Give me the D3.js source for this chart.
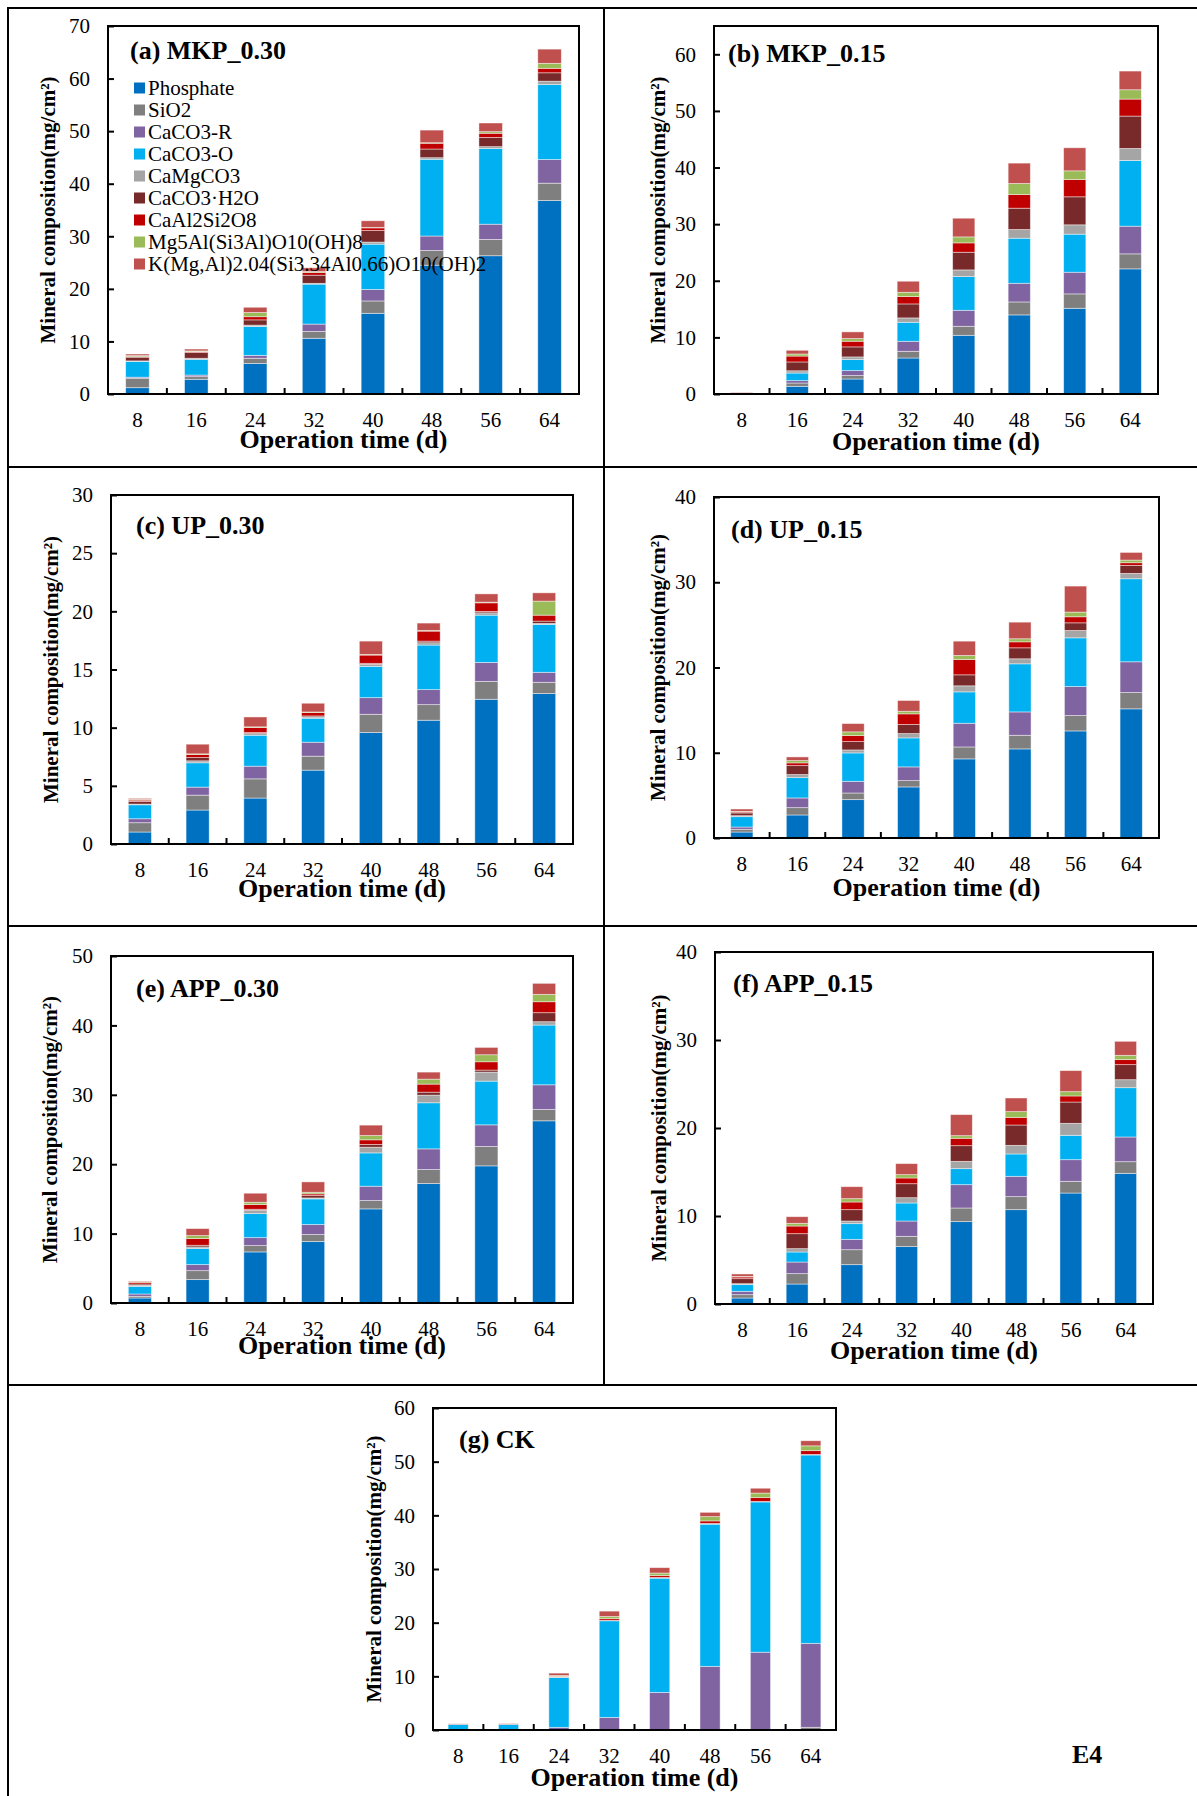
<!DOCTYPE html>
<html>
<head>
<meta charset="utf-8">
<script src="https://cdn.jsdelivr.net/npm/d3@7"></script>
<style>
  html, body { margin: 0; padding: 0; background: #fff; }
  svg { display: block; }
</style>
</head>
<body>
<svg id="fig" width="1197" height="1796"></svg>
<script>
// Sampling days (x categories)
const days = ["8", "16", "24", "32", "40", "48", "56", "64"];

// Mineral phases, stacked bottom to top
const minerals = [
  "Phosphate", "SiO2", "CaCO3-R", "CaCO3-O", "CaMgCO3", "CaCO3·H2O",
  "CaAl2Si2O8", "Mg5Al(Si3Al)O10(OH)8", "K(Mg,Al)2.04(Si3.34Al0.66)O10(OH)2"
];

// Mineral composition (mg/cm²), one row per mineral, one value per day
const mkp030 = [
  [1.2, 2.8, 5.8, 10.6, 15.35, 24.5, 26.3, 36.8],
  [1.8, 0.5, 1.0, 1.3, 2.35, 2.8, 3.1, 3.3],
  [0.2, 0.3, 0.55, 1.4, 2.2, 2.75, 2.9, 4.5],
  [3.0, 3.0, 5.5, 7.6, 8.6, 14.6, 14.4, 14.25],
  [0.1, 0.2, 0.25, 0.15, 0.4, 0.3, 0.35, 0.65],
  [0.7, 1.1, 1.0, 1.55, 2.2, 1.65, 1.75, 1.6],
  [0.1, 0.15, 0.6, 0.5, 0.5, 1.1, 0.8, 0.85],
  [0.2, 0.15, 0.8, 0.2, 0.1, 0.1, 0.3, 0.95],
  [0.3, 0.35, 1.0, 0.7, 1.25, 2.4, 1.65, 2.7]
];
const mkp015 = [
  [0, 1.36, 2.65, 6.36, 10.37, 13.97, 15.14, 22.1],
  [0, 0.58, 0.6, 1.18, 1.59, 2.29, 2.54, 2.65],
  [0, 0.42, 0.88, 1.77, 2.83, 3.3, 3.83, 4.89],
  [0, 1.34, 1.95, 3.36, 5.95, 7.96, 6.72, 11.61],
  [0, 0.4, 0.47, 0.77, 1.18, 1.53, 1.65, 2.12],
  [0.05, 1.56, 1.77, 2.47, 3.12, 3.77, 4.95, 5.72],
  [0, 1.04, 1.0, 1.3, 1.65, 2.42, 3.06, 3.0],
  [0, 0.37, 0.47, 0.76, 1.06, 1.94, 1.53, 1.65],
  [0.2, 0.65, 1.18, 1.95, 3.3, 3.6, 4.07, 3.3]
];
const up030 = [
  [1.03, 2.92, 3.95, 6.35, 9.58, 10.64, 12.44, 12.93],
  [0.8, 1.28, 1.65, 1.2, 1.57, 1.34, 1.54, 0.97],
  [0.34, 0.69, 1.09, 1.2, 1.43, 1.29, 1.63, 0.86],
  [1.2, 2.09, 2.66, 2.06, 2.69, 3.83, 4.06, 4.11],
  [0.06, 0.17, 0.14, 0.11, 0.17, 0.2, 0.2, 0.09],
  [0.23, 0.28, 0.09, 0.09, 0.09, 0.14, 0.12, 0.2],
  [0.11, 0.26, 0.43, 0.29, 0.71, 0.86, 0.74, 0.51],
  [0.06, 0.06, 0.06, 0.05, 0.06, 0.06, 0.06, 1.21],
  [0.09, 0.83, 0.85, 0.75, 1.14, 0.63, 0.71, 0.71]
];
const up015 = [
  [0.7, 2.7, 4.5, 5.99, 9.28, 10.45, 12.56, 15.15],
  [0.32, 0.86, 0.78, 0.74, 1.4, 1.6, 1.8, 1.91],
  [0.27, 1.14, 1.37, 1.61, 2.78, 2.74, 3.41, 3.61],
  [1.21, 2.38, 3.33, 3.4, 3.68, 5.64, 5.71, 9.74],
  [0.12, 0.36, 0.35, 0.51, 0.71, 0.59, 0.86, 0.63],
  [0.32, 1.05, 0.98, 1.06, 1.29, 1.29, 0.9, 0.94],
  [0.11, 0.32, 0.71, 1.25, 1.8, 0.7, 0.71, 0.31],
  [0.08, 0.27, 0.43, 0.31, 0.47, 0.36, 0.55, 0.31],
  [0.27, 0.43, 0.97, 1.26, 1.68, 1.95, 3.05, 0.9]
];
const app030 = [
  [0.72, 3.37, 7.36, 8.85, 13.56, 17.21, 19.76, 26.25],
  [0.24, 1.29, 0.91, 1.01, 1.2, 2.02, 2.79, 1.63],
  [0.34, 0.87, 1.15, 1.44, 2.07, 2.98, 3.12, 3.56],
  [1.1, 2.31, 3.46, 3.7, 4.8, 6.64, 6.3, 8.61],
  [0.15, 0.24, 0.49, 0.14, 0.82, 1.1, 1.3, 0.48],
  [0.19, 0.24, 0.14, 0.34, 0.39, 0.43, 0.29, 1.3],
  [0.24, 0.96, 0.67, 0.24, 0.67, 1.16, 1.2, 1.58],
  [0.1, 0.43, 0.34, 0.24, 0.62, 0.72, 1.01, 1.06],
  [0.09, 1.01, 1.3, 1.49, 1.5, 1.01, 1.06, 1.59]
];
const app015 = [
  [0.68, 2.27, 4.47, 6.52, 9.36, 10.72, 12.61, 14.85],
  [0.38, 1.18, 1.7, 1.17, 1.55, 1.48, 1.33, 1.32],
  [0.38, 1.32, 1.18, 1.74, 2.65, 2.31, 2.46, 2.81],
  [0.76, 1.14, 1.78, 2.05, 1.82, 2.54, 2.77, 5.6],
  [0.11, 0.38, 0.3, 0.6, 0.83, 0.98, 1.36, 0.91],
  [0.57, 1.7, 1.29, 1.59, 1.78, 2.31, 2.42, 1.71],
  [0.19, 0.87, 0.87, 0.65, 0.84, 0.87, 0.69, 0.57],
  [0.07, 0.31, 0.38, 0.38, 0.3, 0.65, 0.49, 0.49],
  [0.27, 0.75, 1.36, 1.25, 2.39, 1.55, 2.39, 1.59]
];
const ck = [
  [0, 0, 0, 0, 0, 0, 0, 0],
  [0, 0, 0.1, 0.05, 0.1, 0.1, 0.1, 0.5],
  [0.05, 0.05, 0.4, 2.3, 6.9, 11.76, 14.4, 15.65],
  [1.0, 1.0, 9.3, 18.0, 21.3, 26.5, 28.0, 35.1],
  [0, 0, 0.05, 0.05, 0.05, 0.05, 0.05, 0.05],
  [0, 0, 0.05, 0.05, 0.1, 0.1, 0.05, 0.05],
  [0, 0, 0.1, 0.3, 0.35, 0.45, 0.7, 0.7],
  [0, 0, 0.15, 0.4, 0.45, 0.8, 0.85, 0.9],
  [0.1, 0.13, 0.45, 1.0, 1.0, 0.8, 0.9, 0.95]
];

// Fill colour of each mineral
const palette = ["#0070C0", "#7F7F7F", "#8064A2", "#00B0F0", "#A5A5A5",
                 "#782A2A", "#C00000", "#9BBB59", "#C0504D"];

// Panel geometry: plot frame, y range, label positions
const panels = [
  { title: "(a) MKP_0.30", data: mkp030, x0: 108, x1: 579, top: 26,   bottom: 394,  ymax: 70, step: 10, tx: 130, ty: 59,   yt: 55,  xo: 54, legend: true },
  { title: "(b) MKP_0.15", data: mkp015, x0: 714, x1: 1158, top: 26,  bottom: 394,  ymax: 65, step: 10, tx: 728, ty: 62,   yt: 665, xo: 56 },
  { title: "(c) UP_0.30",  data: up030,  x0: 111, x1: 573, top: 495,  bottom: 844,  ymax: 30, step: 5,  tx: 136, ty: 534,  yt: 58,  xo: 53 },
  { title: "(d) UP_0.15",  data: up015,  x0: 714, x1: 1159, top: 497, bottom: 838,  ymax: 40, step: 10, tx: 731, ty: 538,  yt: 665, xo: 58 },
  { title: "(e) APP_0.30", data: app030, x0: 111, x1: 573, top: 956,  bottom: 1303, ymax: 50, step: 10, tx: 136, ty: 997,  yt: 57,  xo: 51 },
  { title: "(f) APP_0.15", data: app015, x0: 715, x1: 1153, top: 952, bottom: 1304, ymax: 40, step: 10, tx: 733, ty: 992,  yt: 666, xo: 55 },
  { title: "(g) CK",       data: ck,     x0: 433, x1: 836, top: 1408, bottom: 1730, ymax: 60, step: 10, tx: 459, ty: 1448, yt: 381, xo: 56 }
];

const serif = "'Liberation Serif', 'Times New Roman', serif";
const svg = d3.select("#fig");
svg.append("rect").attr("width", 1197).attr("height", 1796).attr("fill", "#fff");

// Figure grid lines separating the panels
const grid = svg.append("g").attr("stroke", "#000").attr("stroke-width", 2);
[8, 467, 926, 1385].forEach(y => grid.append("line").attr("x1", 7).attr("x2", 1197).attr("y1", y).attr("y2", y));
grid.append("line").attr("x1", 8).attr("x2", 8).attr("y1", 7).attr("y2", 1796);
grid.append("line").attr("x1", 604).attr("x2", 604).attr("y1", 8).attr("y2", 1385);

panels.forEach(p => {
  const g = svg.append("g");

  const x = d3.scaleBand().domain(days).range([p.x0, p.x1]).paddingInner(0.6).paddingOuter(0.3);
  const y = d3.scaleLinear().domain([0, p.ymax]).range([p.bottom, p.top]);

  // Rows: one object per day with a value per mineral
  const rows = days.map((d, j) => {
    const r = { day: d };
    minerals.forEach((m, i) => { r[m] = p.data[i][j]; });
    return r;
  });
  const stacked = d3.stack().keys(minerals)(rows);

  g.selectAll("g.layer").data(stacked).join("g")
    .attr("class", "layer")
    .attr("fill", (s, i) => palette[i])
    .selectAll("rect").data(s => s).join("rect")
      .attr("x", d => x(d.data.day))
      .attr("width", x.bandwidth())
      .attr("y", d => y(d[1]))
      .attr("height", d => Math.max(0, y(d[0]) - y(d[1])))
      .attr("stroke", "rgba(255,255,255,0.55)")
      .attr("stroke-width", 0.8);

  // Y axis with inward ticks
  const yAxis = d3.axisLeft(y)
    .tickValues(d3.range(0, p.ymax + 0.001, p.step).filter(v => v <= p.ymax && (p.ymax % p.step === 0 || v < p.ymax)))
    .tickSizeInner(-6).tickSizeOuter(0).tickPadding(18)
    .tickFormat(d3.format("d"));
  const ya = g.append("g").attr("transform", `translate(${p.x0},0)`).call(yAxis);
  ya.select(".domain").remove();
  ya.selectAll("line").attr("stroke", "#000").attr("stroke-width", 2);
  ya.selectAll("text").attr("font-family", serif).attr("font-size", 21).attr("fill", "#000");

  // X axis category labels
  const xAxis = d3.axisBottom(x).tickSize(0).tickPadding(18);
  const xa = g.append("g").attr("transform", `translate(0,${p.bottom})`).call(xAxis);
  xa.select(".domain").remove();
  xa.selectAll("text").attr("font-family", serif).attr("font-size", 21).attr("fill", "#000");

  // Tick marks between categories, pointing into the plot
  g.selectAll("line.sep").data(days.slice(0, -1)).join("line")
    .attr("class", "sep")
    .attr("x1", d => x(d) + x.bandwidth() / 2 + x.step() / 2)
    .attr("x2", d => x(d) + x.bandwidth() / 2 + x.step() / 2)
    .attr("y1", p.bottom).attr("y2", p.bottom - 6)
    .attr("stroke", "#000").attr("stroke-width", 2);

  // Plot frame
  g.append("rect")
    .attr("x", p.x0).attr("y", p.top)
    .attr("width", p.x1 - p.x0).attr("height", p.bottom - p.top)
    .attr("fill", "none").attr("stroke", "#000").attr("stroke-width", 2);

  // Panel title
  g.append("text").attr("x", p.tx).attr("y", p.ty)
    .attr("font-family", serif).attr("font-size", 26).attr("font-weight", "bold")
    .text(p.title);

  // Axis titles
  g.append("text")
    .attr("x", (p.x0 + p.x1) / 2).attr("y", p.bottom + p.xo)
    .attr("text-anchor", "middle")
    .attr("font-family", serif).attr("font-size", 26).attr("font-weight", "bold")
    .text("Operation time (d)");
  g.append("text")
    .attr("transform", `translate(${p.yt},${(p.top + p.bottom) / 2}) rotate(-90)`)
    .attr("text-anchor", "middle")
    .attr("font-family", serif).attr("font-size", 21).attr("font-weight", "bold")
    .text("Mineral composition(mg/cm²)");

  // Legend
  if (p.legend) {
    const lg = g.append("g");
    minerals.forEach((m, i) => {
      const cy = 88 + i * 22;
      lg.append("rect").attr("x", 134).attr("y", cy - 5.5).attr("width", 11).attr("height", 11).attr("fill", palette[i]);
      lg.append("text").attr("x", 148).attr("y", cy).attr("dy", "0.35em")
        .attr("font-family", serif).attr("font-size", 21).attr("fill", "#000")
        .text(m);
    });
  }
});

// Figure identifier
svg.append("text").attr("x", 1072).attr("y", 1763)
  .attr("font-family", serif).attr("font-size", 26).attr("font-weight", "bold")
  .text("E4");
</script>
</body>
</html>
